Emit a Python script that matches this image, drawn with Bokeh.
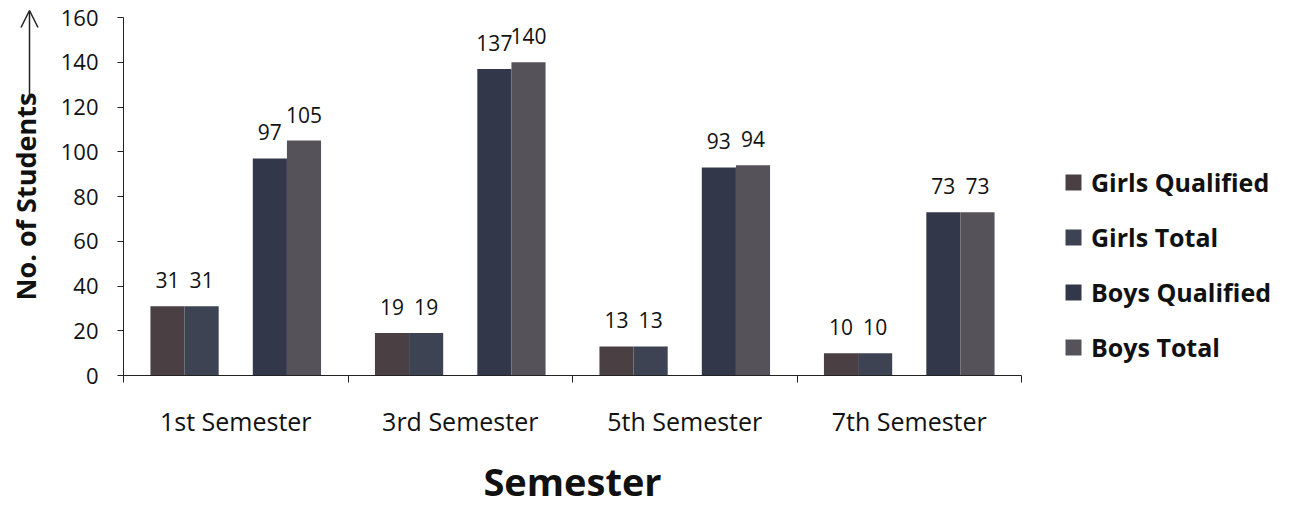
import math
from bokeh.plotting import figure
from bokeh.layouts import row
from bokeh.models import (ColumnDataSource, Range1d, FixedTicker, Legend, LegendItem,
                          Arrow, OpenHead)
from bokeh.transform import dodge
from bokeh.core.properties import value
from bokeh.embed import file_html
from bokeh.resources import INLINE

# ---- data ----
semesters = ["1st Semester", "3rd Semester", "5th Semester", "7th Semester"]
girls_qualified = [31, 19, 13, 10]
girls_total = [31, 19, 13, 10]
boys_qualified = [97, 137, 93, 73]
boys_total = [105, 140, 94, 73]
series_names = ["Girls Qualified", "Girls Total", "Boys Qualified", "Boys Total"]
y_ticks = [0, 20, 40, 60, 80, 100, 120, 140, 160]
y_title = "No. of Students"
x_title = "Semester"

FONT = "Open Sans"
TXT = "#111111"
LINE = "#222222"
colors = ["#4a4043", "#3d4352", "#33374a", "#56525a"]
offsets = [-0.304, -0.152, 0.152, 0.304]
bar_w = 0.152

W, H = 1292, 509
LEFT_W = 50
MAIN_W = 981
LEG_W = W - LEFT_W - MAIN_W

# ---- left strip: y-axis title with arrow (pixel coordinates, y up) ----
lf = figure(width=LEFT_W, height=H, output_backend="svg", toolbar_location=None,
            x_range=Range1d(0, LEFT_W), y_range=Range1d(0, H), min_border=0,
            x_axis_location=None, y_axis_location=None, frame_align=False)
lf.grid.visible = False
lf.outline_line_color = None
lf.text(x=[25], y=[H - 300], text=[y_title], angle=math.pi / 2, text_align="left",
        text_baseline="middle", text_font=value(FONT), text_font_size="27px",
        text_font_style="bold", text_color=TXT)
lf.add_layout(Arrow(end=OpenHead(size=17, line_width=1.5, line_color=LINE),
                    x_start=29, y_start=H - 98, x_end=29, y_end=H - 10,
                    line_width=1.5, line_color=LINE))

# ---- main chart ----
xc = [i + 0.5 for i in range(len(semesters))]
series = [girls_qualified, girls_total, boys_qualified, boys_total]
data = {"xc": xc}
for k, s in enumerate(series):
    data[f"s{k}"] = s
    data[f"t{k}"] = [str(v) for v in s]
source = ColumnDataSource(data)

p = figure(width=MAIN_W, height=H, output_backend="svg", toolbar_location=None,
           x_range=Range1d(0, len(semesters)), y_range=Range1d(0, 160),
           min_border_left=123 - LEFT_W, min_border_right=10, min_border_top=17,
           min_border_bottom=133, background_fill_color="white",
           border_fill_color="white")
p.outline_line_color = None
p.grid.visible = False

renderers = []
for k in range(4):
    r = p.vbar(x=dodge("xc", offsets[k], range=p.x_range), top=f"s{k}", width=bar_w,
               source=source, fill_color=colors[k], line_color=None)
    renderers.append(r)
    p.text(x=dodge("xc", offsets[k], range=p.x_range), y=f"s{k}", text=f"t{k}",
           source=source, text_align="center", text_baseline="alphabetic",
           y_offset=-26, text_font=value(FONT), text_font_size="21px",
           text_color=TXT)

# x axis: labels at category centres, ticks at category boundaries
xa = p.xaxis[0]
xa.ticker = FixedTicker(ticks=xc, minor_ticks=list(range(len(semesters) + 1)))
xa.major_label_overrides = {x: s for x, s in zip(xc, semesters)}
xa.major_tick_line_color = None
xa.major_tick_out = 0
xa.major_tick_in = 0
xa.minor_tick_out = 7
xa.minor_tick_in = 0
xa.minor_tick_line_color = LINE
xa.axis_line_color = LINE
xa.major_label_text_font = FONT
xa.major_label_text_font_size = "25px"
xa.major_label_text_color = TXT
xa.major_label_text_line_height = 1.0
xa.major_label_standoff = 21
xa.axis_label = x_title
xa.axis_label_text_font = FONT
xa.axis_label_text_font_size = "38px"
xa.axis_label_text_font_style = "bold"
xa.axis_label_text_color = TXT
xa.axis_label_text_line_height = 1.0
xa.axis_label_standoff = 14

ya = p.yaxis[0]
ya.ticker = FixedTicker(ticks=y_ticks)
ya.minor_tick_line_color = None
ya.major_tick_out = 6
ya.major_tick_in = 0
ya.major_tick_line_color = LINE
ya.axis_line_color = LINE
ya.major_label_text_font = FONT
ya.major_label_text_font_size = "22px"
ya.major_label_text_color = TXT
ya.major_label_text_line_height = 1.0
ya.major_label_standoff = 19

# ---- legend strip (legend swatches need one off-screen sample each) ----
lg = figure(width=LEG_W, height=H, output_backend="svg", toolbar_location=None,
            x_range=Range1d(0, 1), y_range=Range1d(0, 1), min_border=0,
            x_axis_location=None, y_axis_location=None, frame_align=False)
lg.grid.visible = False
lg.outline_line_color = None
leg_src = ColumnDataSource({"x": [-10.0], "y": [-10.0]})
leg_renderers = [lg.vbar(x="x", top="y", bottom=-11.0, width=0.1, source=leg_src,
                         fill_color=c, line_color=None) for c in colors]
legend = Legend(items=[LegendItem(label=n, renderers=[r], index=0)
                       for n, r in zip(series_names, leg_renderers)],
                location=(32, 145), margin=0, padding=0, border_line_color=None,
                background_fill_alpha=0, glyph_width=20, glyph_height=20,
                label_standoff=8, label_text_font=FONT, label_text_font_size="25px",
                label_text_font_style="bold", label_text_color=TXT,
                label_height=30, spacing=21)
lg.add_layout(legend)

layout = row(lf, p, lg, spacing=0)
open("out.html", "w").write(file_html(layout, INLINE))
